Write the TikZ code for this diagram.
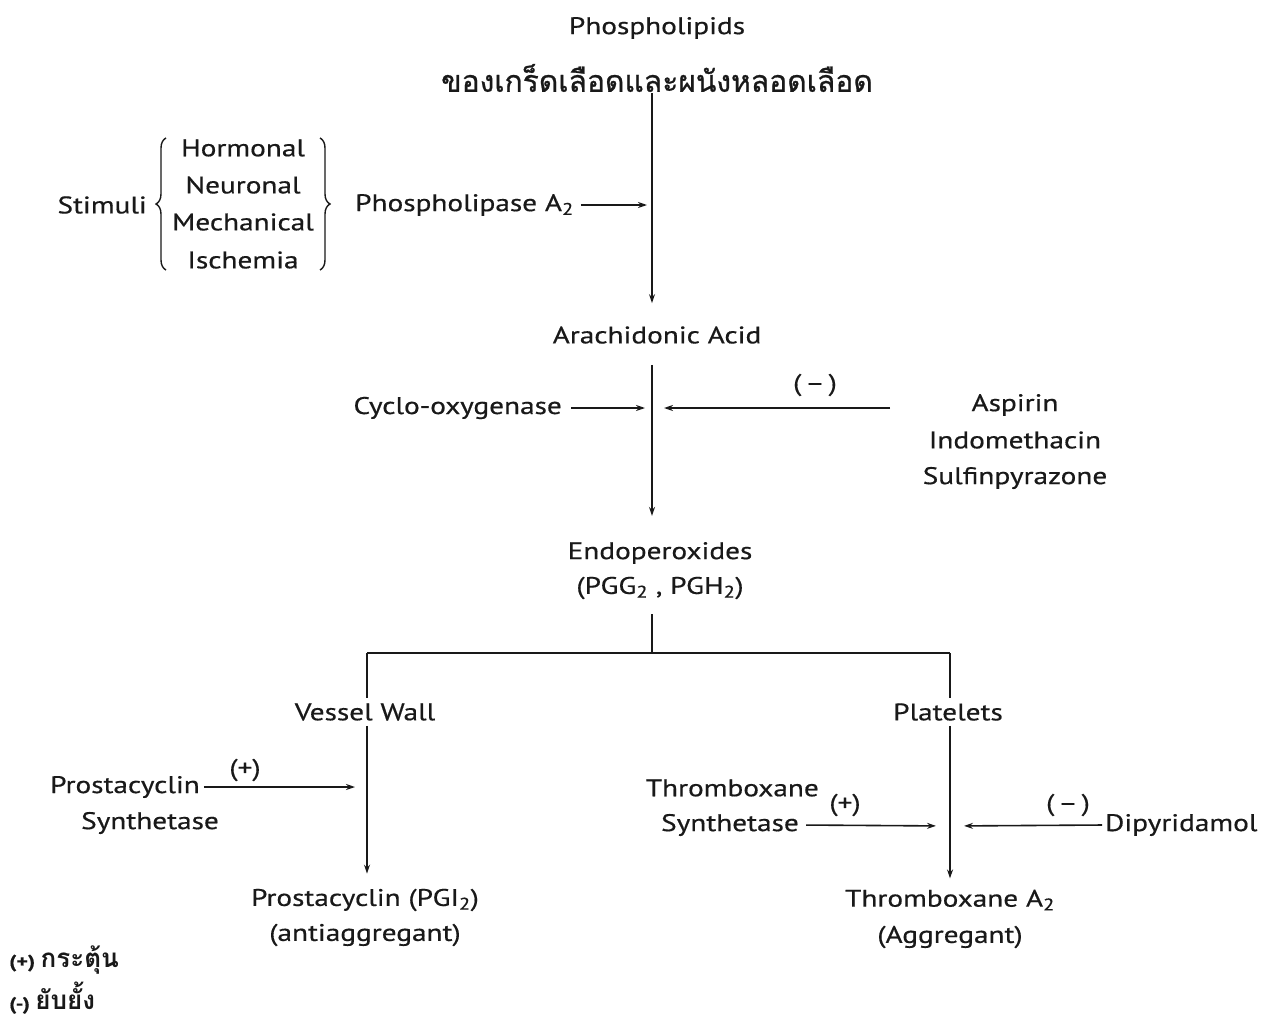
\documentclass[tikz,border=0pt]{standalone}
\usepackage{fontspec}
\setmainfont{PT Sans}[FakeStretch=1.22,FakeBold=0.5]
\newfontfamily\thaifont[Script=Thai,FakeBold=0.8]{Loma}
\newfontfamily\thailegend[Script=Thai]{Loma}
\usetikzlibrary{arrows.meta,decorations.pathreplacing}
\begin{document}
\begin{tikzpicture}[x=1pt,y=-1pt,
  font=\fontsize{24}{28}\selectfont,
  txt/.style={inner sep=1pt, text=black!90},
  ln/.style={line width=1.6pt, draw=black!90},
  arr/.style={ln, -{Stealth[length=9pt,width=6pt]}},
  brc/.style={ln, line width=1.4pt, decorate, decoration={brace, amplitude=10pt}}]
\useasboundingbox[fill=white] (0,0) rectangle (1281,1019);

% top
\node[txt] (phos) at (657,28) {Phospholipids};
\node[txt, font=\thaifont\fontsize{30}{34}\selectfont] (thai) at (657,78) {ของเกร็ดเลือดและผนังหลอดเลือด};
\node[txt] (ara) at (657,335) {Arachidonic Acid};
\coordinate (j1) at (652,205);
\draw[arr, shorten >=22pt] (thai.south -| j1) -- (ara.north -| j1);

% stimuli
\node[txt, anchor=east] (stim) at (148,205) {Stimuli};
\node[txt] (hor) at (243,148) {Hormonal};
\node[txt] (neu) at (243,185) {Neuronal};
\node[txt] (mec) at (243,222) {Mechanical};
\node[txt] (isc) at (243,260) {Ischemia};
\coordinate (bl1) at (166,270); \coordinate (bl2) at (166,138);
\coordinate (br1) at (320,138); \coordinate (br2) at (320,270);
\draw[brc] (bl1) -- (bl2);
\draw[brc] (br1) -- (br2);
\node[txt, anchor=west] (pla) at (354,205) {Phospholipase A\textsubscript{2}};
\draw[arr, shorten <=6pt, shorten >=5pt] (pla.east) -- (j1);

% cyclo-oxygenase
\coordinate (j2) at (652,408);
\node[txt, anchor=east] (cox) at (563,408) {Cyclo-oxygenase};
\draw[arr, shorten <=8pt, shorten >=7pt] (cox.east) -- (j2);
\node[txt] (asp) at (1015,405) {Aspirin};
\node[txt] (indo) at (1015,440) {Indomethacin};
\node[txt] (sulf) at (1015,478) {Sulfinpyrazone};
\coordinate (aspS) at (890,408);
\draw[arr, shorten >=12pt] (aspS) -- (j2);
\node[txt] (minus1) at (815,385) {(\,–\,)};

\node[txt] (endo) at (660,553) {Endoperoxides};
\node[txt] (pgg) at (660,588) {(PGG\textsubscript{2} , PGH\textsubscript{2})};
\draw[arr, shorten <=20pt, shorten >=25pt] (ara.south -| j1) -- (endo.north -| j1);

% split
\coordinate (sp) at (652,653);
\coordinate (spL) at (367,653);
\coordinate (spR) at (950,653);
\draw[ln, shorten <=14pt] (pgg.south -| sp) -- (sp);
\draw[ln] (spL) -- (spR);
\node[txt] (vw) at (365,712) {Vessel Wall};
\node[txt] (plt) at (948,712) {Platelets};
\draw[ln, shorten >=4pt] (spL) -- (vw.north -| spL);
\draw[ln, shorten >=4pt] (spR) -- (plt.north -| spR);

% left branch
\node[txt] (pgi) at (365,900) {Prostacyclin (PGI\textsubscript{2})};
\node[txt] (anti) at (365,935) {(antiaggregant)};
\draw[arr, shorten <=4pt, shorten >=14pt] (vw.south -| spL) -- (pgi.north -| spL);
\node[txt] (ps1) at (125,787) {Prostacyclin};
\node[txt] (ps2) at (150,823) {Synthetase};
\coordinate (jL) at (367,787);
\draw[arr, shorten <=3pt, shorten >=12pt] (ps1.east) -- (jL);
\node[txt] (plus1) at (245,770) {(+)};

% right branch
\node[txt] (txa) at (950,900) {Thromboxane A\textsubscript{2}};
\node[txt] (agg) at (950,937) {(Aggregant)};
\draw[arr, shorten <=4pt, shorten >=10pt] (plt.south -| spR) -- (txa.north -| spR);
\node[txt, anchor=east] (ts1) at (820,788) {Thromboxane};
\node[txt, anchor=east] (ts2) at (800,825) {Synthetase};
\coordinate (jR) at (950,826);
\draw[arr, shorten <=6pt, shorten >=14pt] (ts2.east) -- (jR);
\node[txt] (plus2) at (845,805) {(+)};
\node[txt, anchor=west] (dip) at (1104,825) {Dipyridamol};
\draw[arr, shorten <=2pt, shorten >=14pt] (dip.west) -- (jR);
\node[txt] (minus2) at (1068,805) {(\,–\,)};

% legend
\node[txt, anchor=west, font=\bfseries\fontsize{18}{22}\selectfont] (lg1) at (8,960) {(+) {\thailegend\bfseries\fontsize{26}{28}\selectfont กระตุ้น}};
\node[txt, anchor=west, font=\bfseries\fontsize{18}{22}\selectfont] (lg2) at (8,998) {(-) {\thailegend\bfseries\fontsize{26}{28}\selectfont ยับยั้ง}};
\end{tikzpicture}
\end{document}
